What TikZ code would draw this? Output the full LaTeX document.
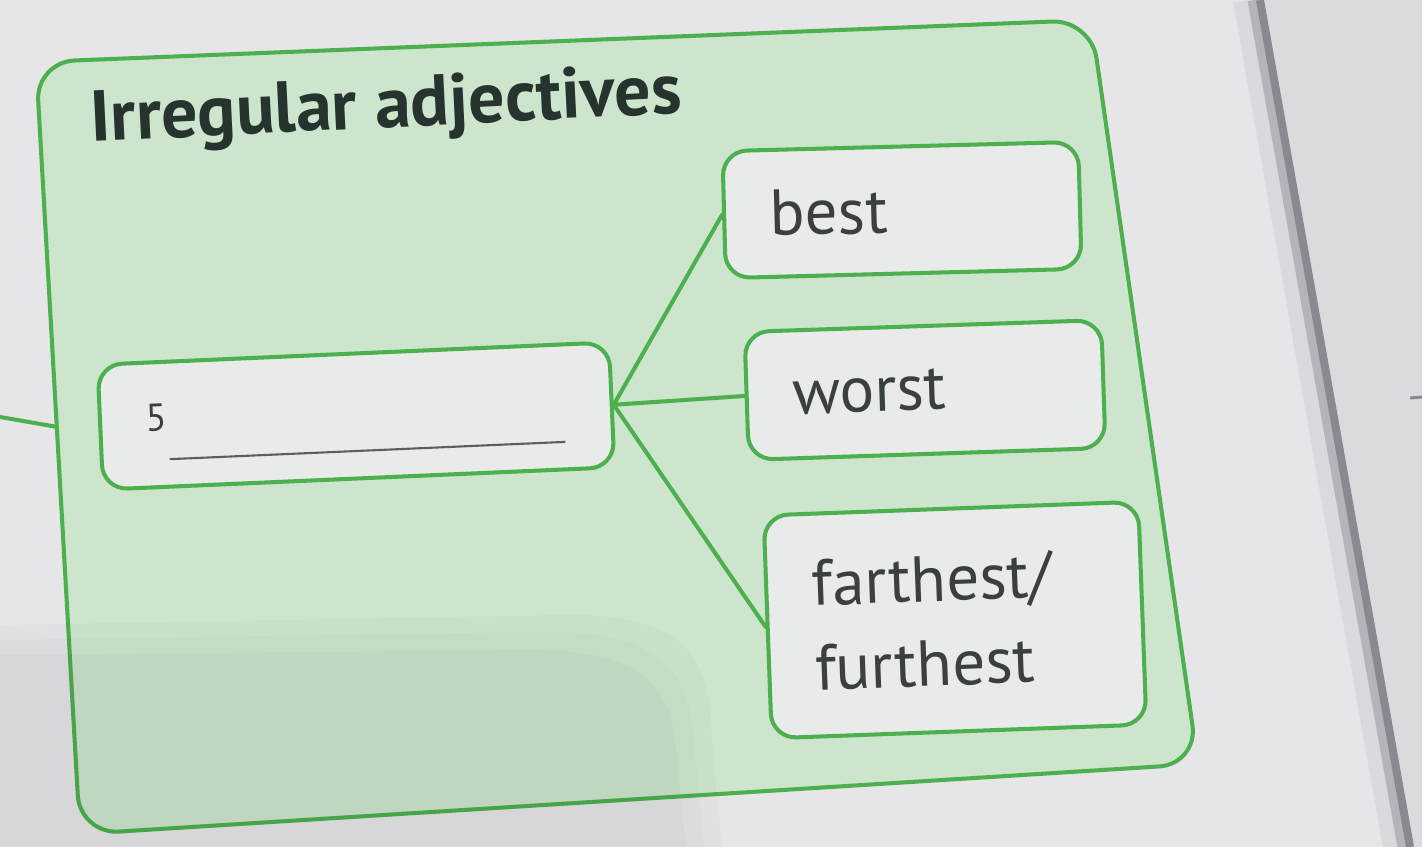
\documentclass[tikz,border=0pt]{standalone}
\usepackage{fontspec}
\setmainfont{PT Sans}
\usetikzlibrary{calc}
\definecolor{bg}{HTML}{E6E5E8}
\definecolor{pagefar}{HTML}{DBDADF}
\definecolor{edgec}{HTML}{8A8890}
\definecolor{panelfill}{HTML}{CDE5CC}
\definecolor{gborder}{HTML}{4DB04F}
\definecolor{boxfill}{HTML}{E9EBEA}
\definecolor{ink}{HTML}{3A4040}
\definecolor{titleink}{HTML}{26332E}
\definecolor{uline}{HTML}{5A5E60}
\begin{document}
\begin{tikzpicture}[x=0.02cm,y=-0.02cm,
  wordbox/.style={draw=gborder, line width=2.3pt, fill=boxfill, rounded corners=14pt,
     align=left, inner xsep=0.92cm, text=ink, font=\fontsize{37}{48}\selectfont},
  conn/.style={draw=gborder, line width=2.3pt, line cap=round},
  paneldraw/.style={draw=gborder, line width=2.3pt, fill=panelfill, rounded corners=22pt},
  titletext/.style={text=titleink, font=\bfseries\fontsize{41}{48}\selectfont, inner sep=0pt},
  underl/.style={draw=uline, line width=1.2pt},
  shade/.style={fill=black, opacity=0.018}]
% background and page
\useasboundingbox (0,0) rectangle (1422,847);
\fill[bg] (0,0) rectangle (1422,847);
\fill[pagefar] (1260,0) -- (1422,0) -- (1422,847) -- (1410,847) -- cycle;
\draw[edgec, line width=0.6cm, opacity=0.12] (1248,0) -- (1398,847);
\draw[edgec, line width=0.3cm, opacity=0.45] (1255,0) -- (1405,847);
\draw[edgec, line width=0.16cm] (1260,0) -- (1410,847);
\coordinate (mk1) at (1410,398);
\coordinate (mk2) at (1422,397);
\draw[edgec, line width=0.06cm] (mk1) -- (mk2);
% connector coming from the left
\coordinate (lstart) at (0,417);
\coordinate (lend) at (75,430);
\draw[conn] (lstart) -- (lend);
% panel
\path[paneldraw] (36,62) -- (1091,20) -- (1198,764) -- (80,834) -- cycle;
% soft shadow of the photo, lower left
\fill[shade] (0,625) -- (560,615) .. controls (690,612) and (710,660) .. (712,740) -- (722,847) -- (0,847) -- cycle;
\fill[shade] (0,640) -- (540,632) .. controls (660,630) and (690,670) .. (694,745) -- (704,847) -- (0,847) -- cycle;
\fill[shade] (0,655) -- (520,650) .. controls (640,648) and (672,685) .. (676,750) -- (686,847) -- (0,847) -- cycle;
% title
\node[titletext, rotate=2.8, anchor=base west] (title) at (91,142) {Irregular adjectives};
% boxes
\begin{scope}[shift={(356,416)}, rotate=2.5, transform shape]
  \node[wordbox, minimum width=10.24cm, minimum height=2.5cm] (five) at (0,0) {};
  \node[anchor=west, text=ink, font=\fontsize{22}{26}\selectfont, inner sep=0pt] (fivenum) at (-210,-7) {5};
  \coordinate (u1) at (-188,35);
  \coordinate (u2) at (208,35);
  \draw[underl] (u1) -- (u2);
\end{scope}
\begin{scope}[shift={(902,210)}, rotate=1.5, transform shape]
  \node[wordbox, minimum width=7.12cm, minimum height=2.54cm, text width=5.28cm] (best) at (0,0) {best};
\end{scope}
\begin{scope}[shift={(925,390)}, rotate=1.9, transform shape]
  \node[wordbox, minimum width=7.14cm, minimum height=2.56cm, text width=5.3cm] (worst) at (0,0) {worst};
\end{scope}
\begin{scope}[shift={(955,620)}, rotate=2.1, transform shape]
  \node[wordbox, minimum width=7.5cm, minimum height=4.46cm, text width=5.66cm] (far) at (0,0) {farthest/\\furthest};
\end{scope}
% connectors
\draw[conn] (five.east) -- (best.west);
\draw[conn] (five.east) -- (worst.west);
\draw[conn] (five.east) -- (far.west);
\end{tikzpicture}
\end{document}
